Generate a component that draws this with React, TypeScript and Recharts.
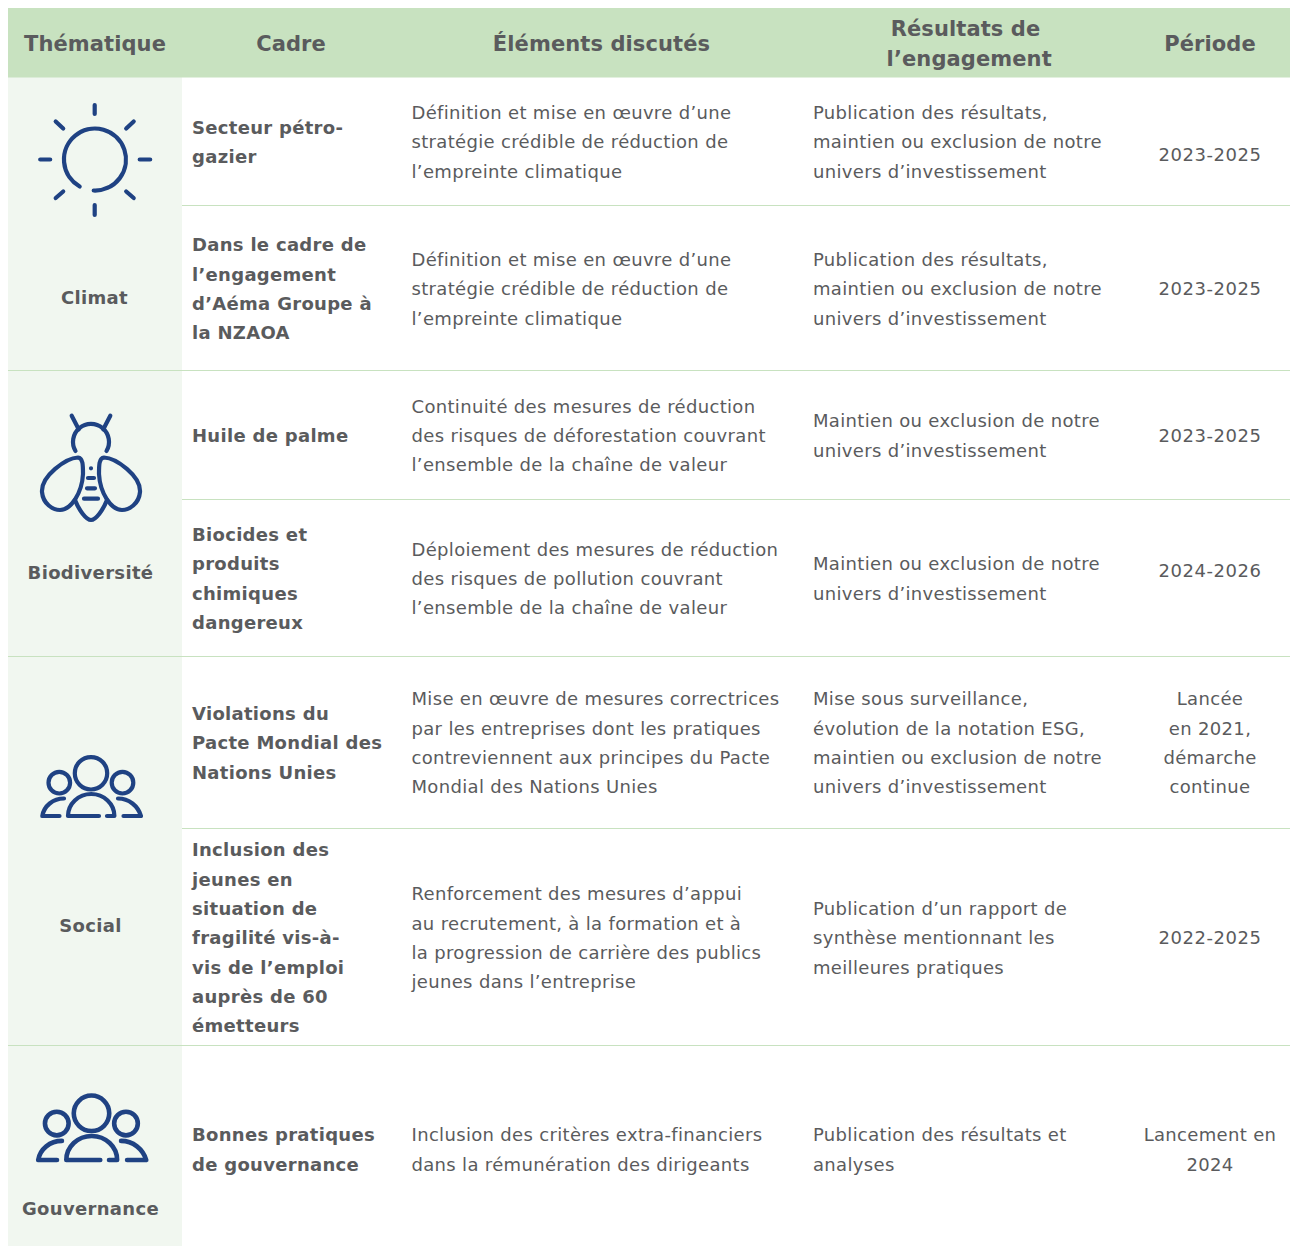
import { ScatterChart, Scatter, XAxis, YAxis, ReferenceArea, ReferenceLine } from 'recharts';

const headers = [['Thématique'], ['Cadre'], ['Éléments discutés'], ['Résultats de', '\u00a0l’engagement'], ['Période']];

const themes = ['Climat', 'Biodiversité', 'Social', 'Gouvernance'];

const frameworks = [
  ['Secteur pétro-', 'gazier'],
  ['Dans le cadre de', 'l’engagement', 'd’Aéma Groupe à', 'la NZAOA'],
  ['Huile de palme'],
  ['Biocides et', 'produits', 'chimiques', 'dangereux'],
  ['Violations du', 'Pacte Mondial des', 'Nations Unies'],
  ['Inclusion des', 'jeunes en', 'situation de', 'fragilité vis-à-', 'vis de l’emploi', 'auprès de 60', 'émetteurs'],
  ['Bonnes pratiques', 'de gouvernance'],
];

const discussed = [
  ['Définition et mise en œuvre d’une', 'stratégie crédible de réduction de', 'l’empreinte climatique'],
  ['Définition et mise en œuvre d’une', 'stratégie crédible de réduction de', 'l’empreinte climatique'],
  ['Continuité des mesures de réduction', 'des risques de déforestation couvrant', 'l’ensemble de la chaîne de valeur'],
  ['Déploiement des mesures de réduction', 'des risques de pollution couvrant', 'l’ensemble de la chaîne de valeur'],
  ['Mise en œuvre de mesures correctrices', 'par les entreprises dont les pratiques', 'contreviennent aux principes du Pacte', 'Mondial des Nations Unies'],
  ['Renforcement des mesures d’appui', 'au recrutement, à la formation et à', 'la progression de carrière des publics', 'jeunes dans l’entreprise'],
  ['Inclusion des critères extra-financiers', 'dans la rémunération des dirigeants'],
];

const outcomes = [
  ['Publication des résultats,', 'maintien ou exclusion de notre', 'univers d’investissement'],
  ['Publication des résultats,', 'maintien ou exclusion de notre', 'univers d’investissement'],
  ['Maintien ou exclusion de notre', 'univers d’investissement'],
  ['Maintien ou exclusion de notre', 'univers d’investissement'],
  ['Mise sous surveillance,', 'évolution de la notation ESG,', 'maintien ou exclusion de notre', 'univers d’investissement'],
  ['Publication d’un rapport de', 'synthèse mentionnant les', 'meilleures pratiques'],
  ['Publication des résultats et', 'analyses'],
];

const periods = [
  ['2023-2025'],
  ['2023-2025'],
  ['2023-2025'],
  ['2024-2026'],
  ['Lancée', 'en 2021,', 'démarche', 'continue'],
  ['2022-2025'],
  ['Lancement en', '2024'],
];

// layout, in page pixels
const headerX = [95, 291, 601.5, 965.5, 1210];
const rowY = [141.8, 288.8, 435.6, 578.5, 742.8, 937.8, 1149.5];
const periodY = [154, 288, 435, 570, 742.8, 937.8, 1149.5];
const themeX = [94.5, 90.5, 90.5, 90.5];
const themeY = [297, 572, 925, 1208];
const subRules = [205.5, 499.5, 828.5];
const groupRules = [370.5, 656.5, 1045.5];
const iconPos = [
  { x: 94.7, y: 159.5, icon: 'sun', k: 1 },
  { x: 91, y: 468, icon: 'bee', k: 1 },
  { x: 91, y: 787, icon: 'people', k: 1 },
  { x: 91.5, y: 1128.3, icon: 'people', k: 1.095 },
];

const INK = '#5a5b5d';
const NAVY = '#1f4283';
const GREEN = '#c8e2c0';
const PALE = '#f1f7f0';
const LINE_H = 29.33;

const makeCell = (size: number, weight: string | number, anchor: 'start' | 'middle', spacing: number) => (props: any) => {
  const { cx, cy, payload } = props;
  const lines: string[] = payload.lines;
  const lh = payload.lh ?? LINE_H;
  return (
    <text
      x={cx}
      textAnchor={anchor}
      fill={INK}
      fontFamily="'DejaVu Sans', sans-serif"
      fontSize={size}
      fontWeight={weight}
      letterSpacing={spacing}
    >
      {lines.map((l, i) => (
        <tspan
          key={i}
          x={cx}
          y={cy + (i - (lines.length - 1) / 2) * lh}
          dominantBaseline="central"
          letterSpacing={/^\d{4}-/.test(l) ? 0.55 : undefined}
        >
          {l}
        </tspan>
      ))}
    </text>
  );
};

const Icon = (props: any) => {
  const { cx, cy, payload } = props;
  const common = { fill: 'none', stroke: NAVY, strokeWidth: 4.2, strokeLinecap: 'round' as const, strokeLinejoin: 'round' as const };
  return (
    <g transform={`translate(${cx} ${cy}) scale(${payload.k})`} {...common}>
      {payload.icon === 'sun' && (
        <>
          <path d="M-1,31 A31,31 0 1 0 -15,27" />
          <path d="M0,-54.5V-45.5 M0,45.5V55.5 M-54.5,0H-44.5 M45,0H55.5" />
          <path d="M-39,-38L-31.5,-31 M39,-38L31.5,-31 M-39,38.5L-31.5,32 M39,38.5L31.5,32" />
        </>
      )}
      {payload.icon === 'bee' && (
        <>
          <path d="M-15.5,-17 A18,18 0 1 1 15.5,-17" />
          <path d="M-19.3,-52.3L-12.3,-38.7 M19.3,-52.3L12.3,-38.7" />
          <path d="M-13,-10.5 C-25,-10 -50,8 -49,24 C-48,36 -38,42 -31,42 C-20,42 -9,25 -8,6 C-8,-3 -8,-10 -13,-10.5 Z" />
          <path d="M13,-10.5 C25,-10 50,8 49,24 C48,36 38,42 31,42 C20,42 9,25 8,6 C8,-3 8,-10 13,-10.5 Z" />
          <path d="M-16,32 C-12,42 -5,52 0,52 C5,52 12,42 16,32" />
          <path d="M0,0.3H0.01 M-3,10H3 M-4,20.3H4 M-7,30.7H7" />
        </>
      )}
      {payload.icon === 'people' && (
        <>
          <circle cx={0} cy={-13.7} r={16.2} />
          <circle cx={-31.7} cy={-4.3} r={10.8} />
          <circle cx={31.5} cy={-4.3} r={10.8} />
          <path d="M8,29 H-23 A23.2,22 0 0 1 23.4,29 H16" />
          <path d="M-27,11.5 C-38,11.5 -47,19 -48.7,29 H-31.5" />
          <path d="M27,11.5 C38,11.5 47,19 50,29 H32.5" />
        </>
      )}
    </g>
  );
};

const column = (x: number, cells: string[][], ys: number[]) =>
  cells.map((lines, i) => ({ x, y: ys[i], lines }));

const headerData = headers.map((lines, i) => ({ x: headerX[i], y: 44, lines, lh: 30 }));
const themeData = themes.map((t, i) => ({ x: themeX[i], y: themeY[i], lines: [t] }));

export default function App() {
  return (
    <div style={{ position: 'absolute', left: 8, top: 8, width: 1282, height: 1238 }}>
      <ScatterChart width={1282} height={1238} margin={{ top: 0, right: 0, bottom: 0, left: 0 }}>
        <XAxis type="number" dataKey="x" domain={[8, 1290]} hide />
        <YAxis type="number" dataKey="y" domain={[8, 1246]} reversed hide />
        <ReferenceArea x1={8} x2={182} y1={77} y2={1246} fill={PALE} fillOpacity={1} stroke="none" />
        <ReferenceArea x1={8} x2={1290} y1={8} y2={77.5} fill={GREEN} fillOpacity={1} stroke="none" />
        {subRules.map((y) => (
          <ReferenceLine key={y} segment={[{ x: 182, y }, { x: 1290, y }]} stroke={GREEN} strokeWidth={1.2} />
        ))}
        {groupRules.map((y) => (
          <ReferenceLine key={y} segment={[{ x: 8, y }, { x: 1290, y }]} stroke={GREEN} strokeWidth={1.2} />
        ))}
        <Scatter data={iconPos} shape={Icon} isAnimationActive={false} />
        <Scatter data={headerData} shape={makeCell(21, 700, 'middle', 0.1)} isAnimationActive={false} />
        <Scatter data={themeData} shape={makeCell(18, 700, 'middle', 0.33)} isAnimationActive={false} />
        <Scatter data={column(192, frameworks, rowY)} shape={makeCell(18, 700, 'start', 0.3)} isAnimationActive={false} />
        <Scatter data={column(411.5, discussed, rowY)} shape={makeCell(18, 400, 'start', 0.33)} isAnimationActive={false} />
        <Scatter data={column(813, outcomes, rowY)} shape={makeCell(18, 400, 'start', 0.33)} isAnimationActive={false} />
        <Scatter data={column(1210, periods, periodY)} shape={makeCell(18, 400, 'middle', 0.33)} isAnimationActive={false} />
      </ScatterChart>
    </div>
  );
}
